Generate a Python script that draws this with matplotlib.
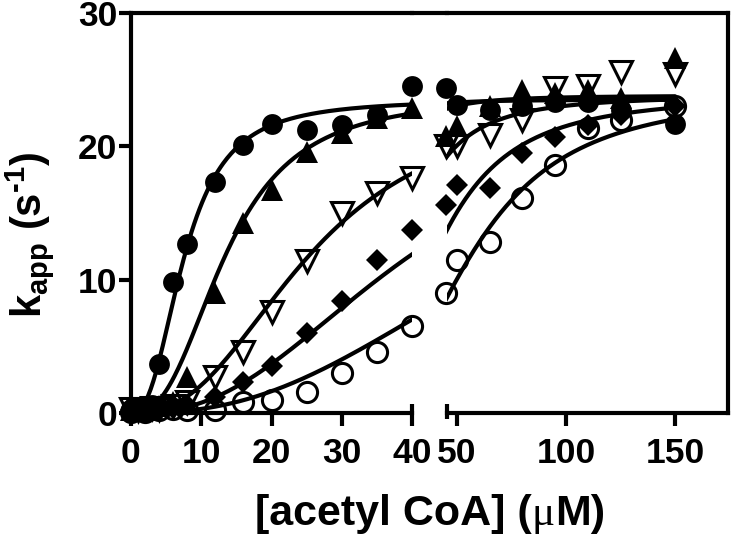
import numpy as np
import matplotlib
matplotlib.use('Agg')
import matplotlib.pyplot as plt
from matplotlib.lines import Line2D
from matplotlib.offsetbox import TextArea, HPacker, AnnotationBbox

plt.rcParams['font.family'] = ['Liberation Sans', 'DejaVu Sans']
plt.rcParams['font.weight'] = 'bold'
plt.rcParams['mathtext.fontset'] = 'custom'
plt.rcParams['mathtext.rm'] = 'Liberation Sans:bold'
plt.rcParams['mathtext.it'] = 'Liberation Sans:bold'
plt.rcParams['mathtext.bf'] = 'Liberation Sans:bold'

# ---- data ----
x_low = [0, 1, 2, 3, 4, 6, 8, 12, 16, 20, 25, 30, 35, 40]
x_high = [45, 50, 65, 80, 95, 110, 125, 150]

circ_low = [0.3, 0.2, 0.4, 0.6, 3.7, 9.85, 12.7, 17.35, 20.1, 21.7, 21.2, 21.6, 22.35, 24.5]
circ_high = [24.4, 23.1, 22.7, 23.0, 23.3, 23.3, 22.7, 21.7]

tri_low = [0.2, 0.3, 0.2, 0.4, 0.5, 0.8, 2.7, 9.0, 14.25, 16.7, 19.6, 21.0, 22.1, 22.85]
tri_high = [20.8, 21.5, 23.0, 24.2, 24.0, 24.2, 23.6, 26.6]

tridown_low = [0.3, 0.2, 0.3, 0.4, 0.3, 0.5, 0.8, 2.7, 4.6, 7.6, 11.4, 15.0, 16.5, 17.6]
tridown_high = [20.0, 20.0, 20.85, 22.0, 24.4, 24.5, 25.6, 25.4]

diam_low = [0.2, 0.3, 0.2, 0.3, 0.4, 0.4, 0.6, 1.2, 2.35, 3.5, 6.0, 8.4, 11.5, 13.7]
diam_high = [15.6, 17.1, 16.85, 19.5, 20.7, 21.6, 22.35, 23.0]

ocirc_low = [0.1, 0.2, 0.1, 0.3, 0.2, 0.3, 0.2, 0.2, 0.8, 1.0, 1.6, 3.0, 4.6, 6.5]
ocirc_high = [9.0, 11.5, 12.85, 16.1, 18.6, 21.35, 22.0, 23.0]

# Hill fit parameters (Vmax, K, n) of each fitted curve
fit_circ = (23.5, 7.6, 2.5)
fit_tri = (23.8, 13.5, 2.6)
fit_tridown = (23.8, 25.5, 2.5)
fit_diam = (23.8, 40.0, 2.45)
fit_ocirc = (24.0, 57.0, 2.5)

x_ticks_low = [0, 10, 20, 30, 40]
x_ticks_high = [50, 100, 150]
y_ticks = [0, 10, 20, 30]


def hill(x, p):
    vmax, k, n = p
    return vmax * x ** n / (k ** n + x ** n)


W, H = 733, 541
fig = plt.figure(figsize=(W / 100, H / 100), dpi=100)

top_px, bot_px = 13, 413
axL = fig.add_axes([131 / W, (H - bot_px) / H, (412 - 131) / W, (bot_px - top_px) / H])
axR = fig.add_axes([447 / W, (H - bot_px) / H, (728 - 447) / W, (bot_px - top_px) / H])

LW = 3.0
series = [
    (ocirc_low, ocirc_high, fit_ocirc, dict(marker='o', ms=14.5, mfc='none', mec='black', mew=2.2)),
    (diam_low, diam_high, fit_diam, dict(marker='D', ms=11, mfc='black', mec='black', mew=0)),
    (tridown_low, tridown_high, fit_tridown, dict(marker='v', ms=16, mfc='none', mec='black', mew=2.2)),
    (tri_low, tri_high, fit_tri, dict(marker='^', ms=15.5, mfc='black', mec='black', mew=0)),
    (circ_low, circ_high, fit_circ, dict(marker='o', ms=15, mfc='black', mec='black', mew=0)),
]

xc = np.linspace(0, 150, 800)
for ylo, yhi, p, mk in series:
    for ax in (axL, axR):
        ax.plot(xc, hill(xc, p), color='black', lw=LW, solid_capstyle='round', zorder=2)
    axL.plot(x_low, ylo, linestyle='none', clip_on=False, zorder=3, **mk)
    axR.plot(x_high, yhi, linestyle='none', clip_on=False, zorder=3, **mk)

axL.set_xlim(0, 40)
axR.set_xlim(45.4, 174.3)
for ax in (axL, axR):
    ax.set_ylim(0, 30)
    for s in ax.spines.values():
        s.set_linewidth(LW)
    ax.tick_params(axis='both', direction='out', length=9, width=LW, labelsize=25.5)
    ax.tick_params(axis='x', pad=8)
    ax.tick_params(axis='y', pad=1)

axL.set_xticks(x_ticks_low)
axL.set_yticks(y_ticks)
axL.spines['right'].set_visible(False)
axR.set_xticks(x_ticks_high)
axR.set_yticks([])
axR.spines['left'].set_visible(False)

# break caps at the ends of the split x axis
axL.plot([40, 40], [0, 0.7], color='black', lw=LW, clip_on=False, solid_capstyle='butt')
axR.plot([45.4, 45.4], [-0.45, 0.7], color='black', lw=LW, clip_on=False, solid_capstyle='butt')

# continuous top frame across the gap
ytop = (H - top_px) / H
fig.add_artist(Line2D([412 / W, 447 / W], [ytop, ytop], transform=fig.transFigure,
                      color='black', lw=LW))

fig.text(30 / W, 1 - 235 / H, 'k$_{\\mathrm{app}}$ (s$^{\\mathrm{\u2010}1}$)', rotation=90,
         ha='center', va='center', fontsize=30, fontweight='bold')

# x-axis title: bold sans text with a serif, regular-weight mu
sans = dict(fontsize=31, fontweight='bold', family=['Liberation Sans', 'DejaVu Sans'])
serif = dict(fontsize=31, fontweight='normal', family=['Liberation Serif', 'DejaVu Serif'])
parts = [TextArea('[acetyl CoA] (', textprops=sans),
         TextArea('\u03bc', textprops=serif),
         TextArea('M)', textprops=sans)]
pack = HPacker(children=parts, align='baseline', pad=0, sep=0)
ab = AnnotationBbox(pack, (430 / W, 1 - 514 / H), xycoords='figure fraction',
                    box_alignment=(0.5, 0.5), frameon=False, pad=0)
fig.add_artist(ab)

fig.savefig('out.png', dpi=100)
